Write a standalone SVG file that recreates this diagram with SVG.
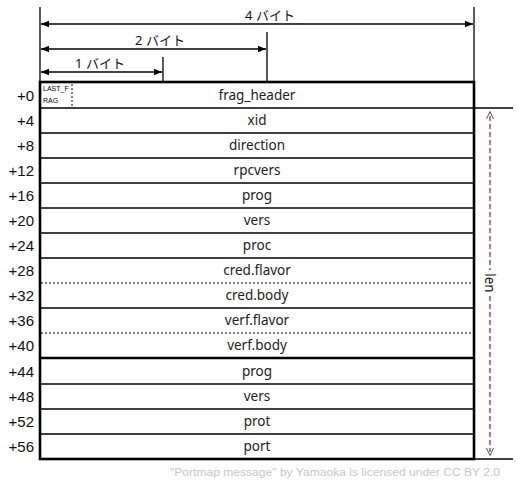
<svg xmlns="http://www.w3.org/2000/svg" width="517" height="484" viewBox="0 0 517 484">
<style>
.bg{fill:#fff}
.thin{stroke:#000;stroke-width:1.3;fill:none}
.thick{stroke:#000;stroke-width:2.6;fill:none}
.dot{stroke:#000;stroke-width:1;stroke-dasharray:2,2;fill:none}
.lbl{font-family:"Noto Sans","DejaVu Sans",sans-serif;font-size:13.5px;fill:#222;text-anchor:middle}
.off{font-family:"Liberation Sans",Arial,sans-serif;font-size:15px;fill:#111;text-anchor:end}
.jp{font-family:"Noto Sans","Noto Sans CJK JP",sans-serif;font-size:13px;fill:#111;text-anchor:middle}
.tiny{font-family:"Liberation Sans",Arial,sans-serif;font-size:7px;fill:#000}
.len{stroke:#7030a0;stroke-width:1.3;stroke-dasharray:5,3;fill:none}
.chev{stroke:#555;stroke-width:1;fill:none}
.foot{font-family:"Liberation Sans",Arial,sans-serif;font-size:11px;fill:#c8c8c8}
</style>
<defs>
<marker id="ah" viewBox="0 0 10 10" refX="10" refY="5" markerWidth="8" markerHeight="8" markerUnits="userSpaceOnUse" orient="auto-start-reverse">
<path d="M0,1 L10,5 L0,9 Z" fill="#000"/>
</marker>
</defs>
<rect class="bg" x="0" y="0" width="517" height="484"/>
<g id="connectors">
<line class="thin" x1="40" y1="7" x2="40" y2="82"/>
<line class="thin" x1="474" y1="7" x2="474" y2="82"/>
<line class="thin" x1="267" y1="32" x2="267" y2="82"/>
<line class="thin" x1="163" y1="57" x2="163" y2="82"/>
<line class="thin" x1="41" y1="24" x2="473" y2="24" marker-start="url(#ah)" marker-end="url(#ah)"/>
<line class="thin" x1="41" y1="49" x2="266" y2="49" marker-start="url(#ah)" marker-end="url(#ah)"/>
<line class="thin" x1="41" y1="72" x2="162" y2="72" marker-start="url(#ah)" marker-end="url(#ah)"/>
<line class="thin" x1="474" y1="108" x2="513" y2="108"/>
<line class="thin" x1="474" y1="459" x2="513" y2="459"/>
<line class="len" x1="490" y1="116" x2="490" y2="270"/>
<line class="len" x1="490" y1="296" x2="490" y2="452"/>
<path class="chev" d="M486.5,119 L490,111.5 L493.5,119"/>
<path class="chev" d="M486.5,448 L490,455.5 L493.5,448"/>
<text x="490" y="283" transform="rotate(90 490 283)" font-family="Noto Sans,DejaVu Sans,sans-serif" font-size="13.5" fill="#111" text-anchor="middle" dominant-baseline="central">len</text>
</g>
<g id="sizes">
<text class="jp" x="270" y="20">4 バイト</text>
<text class="jp" x="160" y="45">2 バイト</text>
<text class="jp" x="100" y="68">1 バイト</text>
</g>
<g id="rows">
<line class="thin" x1="40" y1="108" x2="474" y2="108"/>
<line class="thin" x1="40" y1="133" x2="474" y2="133"/>
<line class="thin" x1="40" y1="158" x2="474" y2="158"/>
<line class="thin" x1="40" y1="183" x2="474" y2="183"/>
<line class="thin" x1="40" y1="208" x2="474" y2="208"/>
<line class="thin" x1="40" y1="233" x2="474" y2="233"/>
<line class="thin" x1="40" y1="258" x2="474" y2="258"/>
<line class="dot" x1="41" y1="283" x2="474" y2="283"/>
<line class="thin" x1="40" y1="308" x2="474" y2="308"/>
<line class="dot" x1="41" y1="333" x2="474" y2="333"/>
<line class="thick" x1="40" y1="358" x2="474" y2="358"/>
<line class="thin" x1="40" y1="384" x2="474" y2="384"/>
<line class="thin" x1="40" y1="409" x2="474" y2="409"/>
<line class="thin" x1="40" y1="434" x2="474" y2="434"/>
<rect class="thick" x="40" y="82" width="434" height="377"/>
<line class="dot" x1="72" y1="84" x2="72" y2="107"/>
<text class="tiny" x="43" y="91">LAST_F</text>
<text class="tiny" x="43" y="103">RAG</text>
</g>
<g id="node-frag_header"><text class="lbl" x="257" y="100">frag_header</text><text class="off" x="34" y="101">+0</text></g>
<g id="node-xid"><text class="lbl" x="257" y="125">xid</text><text class="off" x="34" y="126">+4</text></g>
<g id="node-direction"><text class="lbl" x="257" y="150">direction</text><text class="off" x="34" y="151">+8</text></g>
<g id="node-rpcvers"><text class="lbl" x="257" y="175">rpcvers</text><text class="off" x="34" y="176">+12</text></g>
<g id="node-prog1"><text class="lbl" x="257" y="200">prog</text><text class="off" x="34" y="201">+16</text></g>
<g id="node-vers1"><text class="lbl" x="257" y="225">vers</text><text class="off" x="34" y="226">+20</text></g>
<g id="node-proc"><text class="lbl" x="257" y="250">proc</text><text class="off" x="34" y="251">+24</text></g>
<g id="node-cred-flavor"><text class="lbl" x="257" y="275">cred.flavor</text><text class="off" x="34" y="276">+28</text></g>
<g id="node-cred-body"><text class="lbl" x="257" y="300">cred.body</text><text class="off" x="34" y="301">+32</text></g>
<g id="node-verf-flavor"><text class="lbl" x="257" y="325">verf.flavor</text><text class="off" x="34" y="326">+36</text></g>
<g id="node-verf-body"><text class="lbl" x="257" y="350">verf.body</text><text class="off" x="34" y="351">+40</text></g>
<g id="node-prog2"><text class="lbl" x="257" y="376">prog</text><text class="off" x="34" y="377">+44</text></g>
<g id="node-vers2"><text class="lbl" x="257" y="401">vers</text><text class="off" x="34" y="402">+48</text></g>
<g id="node-prot"><text class="lbl" x="257" y="426">prot</text><text class="off" x="34" y="427">+52</text></g>
<g id="node-port"><text class="lbl" x="257" y="451">port</text><text class="off" x="34" y="452">+56</text></g>
<text class="foot" x="170" y="476" textLength="330" lengthAdjust="spacingAndGlyphs">"Portmap message" by Yamaoka is licensed under CC BY 2.0</text>
</svg>
